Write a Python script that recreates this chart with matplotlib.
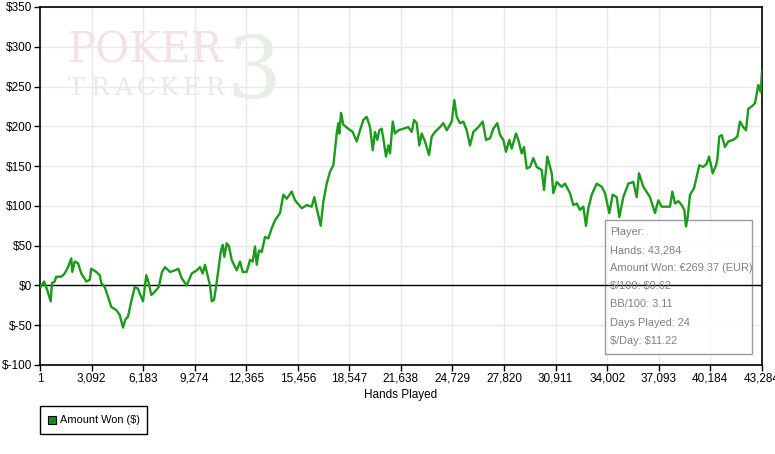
import numpy as np
import matplotlib
matplotlib.use("Agg")
from matplotlib import pyplot as plt
from matplotlib.patches import Rectangle

# cumulative winnings, (hand number, dollars)
hands = [1, 43, 241, 439, 643, 720, 882, 978, 1278, 1482, 1680, 1877, 1937, 2081, 2279, 2477,
         2777, 2981, 3076, 3376, 3580, 3676, 3880, 4078, 4275, 4575, 4779, 4977, 5115, 5277,
         5474, 5678, 5876, 5978, 6176, 6374, 6518, 6673, 6877, 7117, 7315, 7495, 7795, 8094,
         8292, 8496, 8796, 9096, 9395, 9593, 9755, 9893, 10091, 10193, 10295, 10432, 10552,
         10690, 10834, 10954, 11050, 11194, 11332, 11493, 11793, 11991, 12153, 12393, 12591,
         12753, 12890, 12992, 13130, 13292, 13490, 13688, 13892, 14089, 14389, 14587, 14791,
         15091, 15288, 15690, 15990, 16290, 16445, 16589, 16829, 16985, 17188, 17386, 17584,
         17686, 17788, 17884, 17944, 18046, 18184, 18483, 18747, 18987, 19185, 19383, 19587,
         19785, 19947, 20084, 20222, 20342, 20486, 20624, 20744, 20882, 20984, 21146, 21283,
         21481, 21781, 22081, 22284, 22422, 22584, 22740, 22884, 23082, 23322, 23483, 23681,
         23981, 24179, 24383, 24683, 24839, 24983, 25180, 25378, 25582, 25780, 25978, 26278,
         26542, 26738, 26978, 27176, 27416, 27578, 27776, 27938, 28136, 28279, 28537, 28675,
         28879, 29017, 29179, 29377, 29575, 29779, 30078, 30216, 30414, 30678, 30774, 30978,
         31276, 31474, 31774, 31972, 32176, 32374, 32572, 32733, 32871, 33075, 33375, 33675,
         33872, 34130, 34334, 34574, 34730, 34969, 35269, 35569, 35773, 35911, 36169, 36570,
         36869, 37067, 37271, 37469, 37769, 37907, 38068, 38266, 38470, 38626, 38728, 38830,
         38968, 39207, 39369, 39525, 39765, 39967, 40106, 40208, 40327, 40526, 40604, 40724,
         40868, 41066, 41264, 41563, 41803, 41963, 42161, 42324, 42462, 42665, 42863, 43061,
         43205, 43284]
won = [0, -2, 5, -6, -20, 3, 5, 11, 11, 15, 23, 34, 17, 30, 28, 15,
       5, 7, 21, 17, 13, 3, -2, -14, -27, -31, -37, -53, -43, -39,
       -20, -2, -4, -10, -20, 13, 3, -12, -8, -2, 17, 23, 17, 19,
       21, 9, 0, 15, 19, 23, 15, 26, 9, 0, -20, -18, -2,
       19, 42, 51, 36, 53, 49, 32, 19, 30, 17, 17, 32,
       30, 49, 26, 44, 42, 61, 59, 72, 82, 91, 114, 109,
       118, 107, 97, 101, 99, 111, 97, 75, 105, 128, 143, 151,
       170, 191, 204, 191, 217, 202, 197, 193, 181, 195, 208, 212,
       199, 170, 193, 183, 195, 197, 179, 162, 176, 166, 206, 191,
       195, 197, 199, 193, 208, 204, 176, 191, 181, 164, 187, 193,
       199, 204, 195, 206, 233, 212, 204, 206, 195, 176, 193, 199,
       206, 183, 185, 197, 204, 189, 183, 168, 183, 172, 191, 183,
       166, 174, 147, 149, 160, 149, 145, 120, 162, 141, 116, 130,
       124, 128, 116, 101, 103, 95, 99, 75, 97, 114, 128, 124,
       116, 91, 114, 111, 86, 111, 128, 130, 111, 141, 124, 111,
       91, 107, 99, 99, 99, 118, 103, 106, 101, 95, 74, 86,
       114, 122, 137, 151, 149, 153, 162, 153, 141, 151, 158, 187,
       189, 174, 181, 183, 187, 206, 199, 195, 222, 225, 229, 252,
       243, 269.37]

x_ticks = [1, 3092, 6183, 9274, 12365, 15456, 18547, 21638, 24729, 27820,
           30911, 34002, 37093, 40184, 43284]
y_ticks = [-100, -50, 0, 50, 100, 150, 200, 250, 300, 350]

info_lines = ["Player:", "Hands: 43,284", "Amount Won: €269.37 (EUR)", "$/100: $0.62",
              "BB/100: 3.11", "Days Played: 24", "$/Day: $11.22"]

plt.rcParams["font.family"] = ["Liberation Sans", "DejaVu Sans"]
plt.rcParams["text.parse_math"] = False
fig = plt.figure(figsize=(7.75, 4.54), dpi=100)
ax = fig.add_axes([40 / 775, 89 / 454, 722 / 775, 358 / 454])

ax.plot(hands, won, color="#1a9c1a", lw=1.7, zorder=4)
ax.axhline(0, color="black", lw=1, zorder=3)

ax.set_xlim(1, 43284)
ax.set_ylim(-100, 350)
ax.set_xticks(x_ticks)
ax.set_xticklabels([f"{t:,}" for t in x_ticks])
ax.set_yticks(y_ticks)
ax.set_yticklabels([f"${t}" for t in y_ticks])
ax.tick_params(labelsize=8.5, length=4, width=1, pad=1.5, colors="black")
ax.grid(True, color="#e9e9e9", lw=1, zorder=0)
ax.set_axisbelow(True)
for s in ax.spines.values():
    s.set_color("black")
    s.set_linewidth(1.2)
ax.set_xlabel("Hands Played", fontsize=8.5, labelpad=3)

# faint watermark
ax.text(0.039, 0.8436, "POKER", transform=ax.transAxes, fontsize=30, family="DejaVu Serif",
        color="#f4e2e2", va="baseline", ha="left", zorder=1)
for i, ch in enumerate("TRACKER"):
    ax.text(0.039 + i * 0.0318, 0.755, ch, transform=ax.transAxes, fontsize=18,
            family="DejaVu Serif", color="#e8e8e8", va="baseline", ha="left", zorder=1)
ax.text(0.258, 0.745, "3", transform=ax.transAxes, fontsize=62, family="DejaVu Serif",
        color="#e6eee6", va="baseline", ha="left", zorder=0.9)

# stats box
box = Rectangle((605 / 775, (454 - 354) / 454), 147 / 775, 134 / 454, transform=fig.transFigure,
                facecolor="white", edgecolor="#8a8a8a", lw=1, alpha=0.85, zorder=2)
ax.add_patch(box)
box.set_clip_on(False)
for i, line in enumerate(info_lines):
    fig.text(610 / 775, (454 - 232 - i * 18.1) / 454, line, fontsize=7.9, color="#808080",
             va="center", ha="left", zorder=5)

# legend
leg_box = Rectangle((40 / 775, (454 - 434) / 454), 107 / 775, 28 / 454, transform=fig.transFigure,
                    facecolor="white", edgecolor="black", lw=1)
fig.patches.append(leg_box)
fig.patches.append(Rectangle((48 / 775, (454 - 424) / 454), 8 / 775, 8 / 454, transform=fig.transFigure,
                             facecolor="#1a8a1a", edgecolor="black", lw=0.8))
fig.text(60 / 775, (454 - 420) / 454, "Amount Won ($)", fontsize=7.9, va="center", ha="left")

plt.savefig("out.png", dpi=100)
plt.close()
